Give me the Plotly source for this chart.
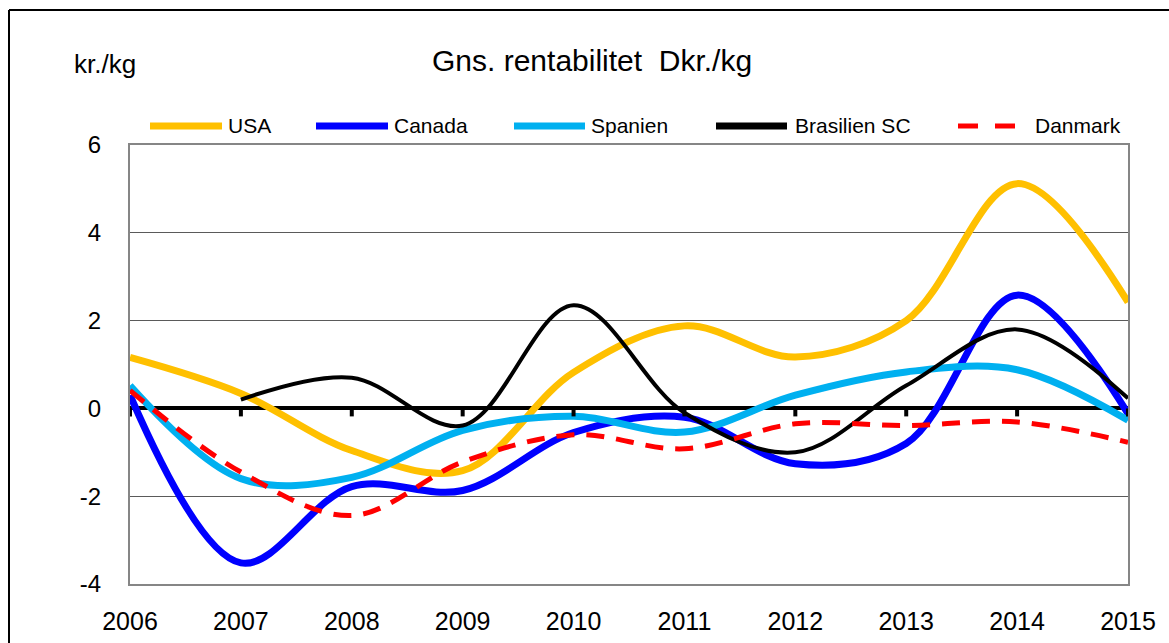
import plotly.graph_objects as go

years = [2006, 2007, 2008, 2009, 2010, 2011, 2012, 2013, 2014, 2015]
usa = [1.16, 0.34, -0.96, -1.42, 0.82, 1.88, 1.17, 2.0, 5.12, 2.42]
canada = [0.3, -3.52, -1.78, -1.87, -0.55, -0.2, -1.26, -0.8, 2.58, -0.12]
spanien = [0.52, -1.6, -1.57, -0.5, -0.18, -0.54, 0.3, 0.83, 0.88, -0.27]
brasilien = [None, 0.2, 0.7, -0.39, 2.35, -0.1, -1.0, 0.52, 1.8, 0.23]
danmark = [0.41, -1.45, -2.44, -1.22, -0.6, -0.92, -0.35, -0.39, -0.31, -0.77]

y_tickvals = [-4, -2, 0, 2, 4, 6]
y_ticktext = ["-4", "-2", "0", "2", "4", "6"]

series_names = ["USA", "Canada", "Spanien", "Brasilien SC", "Danmark"]
series_values = [usa, canada, spanien, brasilien, danmark]
colors = ["#FFC000", "#0000FF", "#00B0F0", "#000000", "#FF0000"]
widths = [7, 7, 7, 4, 5]
dashes = ["solid", "solid", "solid", "solid", "18px,12px"]

W, H = 1169, 643
L, R, T, B = 130, 1128, 145, 584


def px(xp):
    return (xp - L) / (R - L)


def py(yp):
    return (B - yp) / (B - T)


fig = go.Figure()
for name, vals, c, w, d in zip(series_names, series_values, colors, widths, dashes):
    fig.add_trace(go.Scatter(
        x=years, y=vals, name=name, mode="lines",
        line=dict(color=c, width=w, dash=d, shape="spline", smoothing=1.0),
        connectgaps=False, showlegend=False, hoverinfo="x+y+name"))

shapes = []
# outer frame (left and top)
shapes.append(dict(type="line", xref="paper", yref="paper",
                   x0=px(9), x1=px(9), y0=py(645), y1=py(10),
                   line=dict(color="black", width=2)))
shapes.append(dict(type="line", xref="paper", yref="paper",
                   x0=px(9), x1=px(1170), y0=py(10), y1=py(10),
                   line=dict(color="black", width=2)))
# tick marks on the zero line
for yr in years:
    shapes.append(dict(type="line", xref="x", yref="y", ysizemode="pixel",
                       yanchor=0, x0=yr, x1=yr, y0=0, y1=-8,
                       line=dict(color="black", width=4)))

# custom legend
leg_line_x = [(150, 222), (316, 388), (514, 585), (716, 787), (958, 978)]
leg_text_x = [226, 392, 589, 793, 1033]
leg_y = py(126)
annotations = []
for i, name in enumerate(series_names):
    x0, x1 = leg_line_x[i]
    if name == "Danmark":
        for a, b in [(958, 978), (995, 1015)]:
            shapes.append(dict(type="line", xref="paper", yref="paper",
                               x0=px(a), x1=px(b), y0=leg_y, y1=leg_y,
                               line=dict(color=colors[i], width=5)))
    else:
        shapes.append(dict(type="line", xref="paper", yref="paper",
                           x0=px(x0), x1=px(x1), y0=leg_y, y1=leg_y,
                           line=dict(color=colors[i], width=7)))
    annotations.append(dict(text=name, xref="paper", yref="paper",
                            x=px(leg_text_x[i]), y=leg_y, xanchor="left",
                            yanchor="middle", showarrow=False,
                            font=dict(size=21, color="#000000")))

annotations.append(dict(text="Gns. rentabilitet \u00a0Dkr./kg", xref="paper", yref="paper",
                        x=px(592), y=py(60), xanchor="center", yanchor="middle",
                        showarrow=False, font=dict(size=30, color="#000000")))
annotations.append(dict(text="kr./kg", xref="paper", yref="paper",
                        x=px(72), y=py(64), xanchor="left", yanchor="middle",
                        showarrow=False, font=dict(size=26, color="#000000")))

fig.update_layout(
    width=W, height=H,
    margin=dict(l=L, r=W - R, t=T, b=H - B, autoexpand=False),
    paper_bgcolor="white", plot_bgcolor="white",
    font=dict(family="Liberation Sans, Arial, sans-serif", color="#000000"),
    shapes=shapes, annotations=annotations,
    xaxis=dict(range=[2006, 2015], tickvals=years, ticktext=[str(y) for y in years],
               showgrid=False, zeroline=False, showline=True, mirror=True,
               linecolor="#868686", linewidth=2, ticks="outside", ticklen=14,
               tickcolor="rgba(0,0,0,0)", tickfont=dict(size=25), automargin=False),
    yaxis=dict(range=[-4, 6], tickvals=y_tickvals, ticktext=y_ticktext,
               showgrid=True, gridcolor="#5a5a5a", gridwidth=1.3,
               zeroline=True, zerolinecolor="#000000", zerolinewidth=4,
               showline=True, mirror=True, linecolor="#868686", linewidth=2,
               ticks="outside", ticklen=22, tickcolor="rgba(0,0,0,0)",
               tickfont=dict(size=24), automargin=False),
)

fig.write_html("out.html",
               config={"displayModeBar": False},
               post_script="document.body.style.margin='0';document.body.style.overflow='hidden';")
